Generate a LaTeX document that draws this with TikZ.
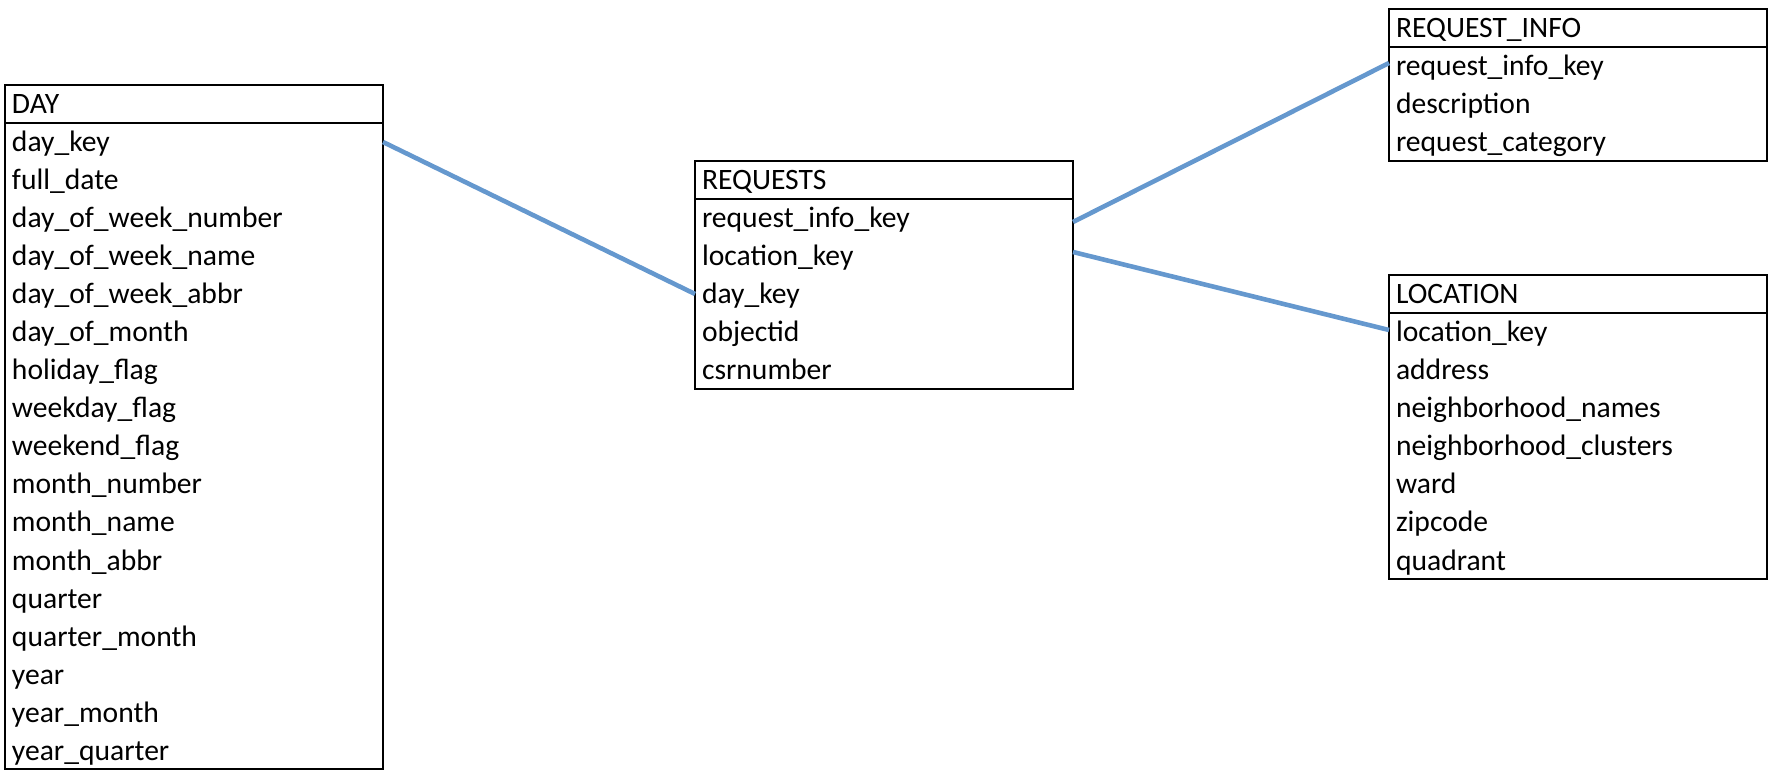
\documentclass[tikz,border=0pt]{standalone}
\usepackage{fontspec}
\setmainfont{Carlito}
\definecolor{linkblue}{RGB}{101,152,206}
\tikzset{
	field/.style={inner xsep=7pt, inner ysep=0pt, outer sep=0pt, text width=364pt, align=left,
		text height=25pt, text depth=5pt, minimum height=38pt, font=\fontsize{29.6}{34}\selectfont},
	tablehead/.style={field, draw, line width=2.8pt},
	link/.style={draw=linkblue, line width=4.6pt},
}
\newcommand{\erTable}[4]{
	\node[tablehead, anchor=north west] (#1-0) at (#2) {#3};
	\foreach \fieldname [count=\i, remember=\i as \j (initially 0)] in {#4}{
		\node[field, anchor=north] (#1-\i) at (#1-\j.south) {\fieldname};
		\xdef\lastRow{\i}
	}
	\draw[line width=2.8pt] (#1-0.north west) rectangle (#1-\lastRow.south east);
}

\begin{document}
\begin{tikzpicture}[x=1pt, y=1pt]
		\useasboundingbox (0,0) rectangle (1774,774);

		% Draw tables
		\erTable{day}{5,689}{DAY}{day\_key, full\_date, day\_of\_week\_number, day\_of\_week\_name,
			day\_of\_week\_abbr, day\_of\_month, holiday\_flag, weekday\_flag, weekend\_flag,
			month\_number, month\_name, month\_abbr, quarter, quarter\_month, year,
			year\_month, year\_quarter}
		\erTable{req}{695,613}{REQUESTS}{request\_info\_key, location\_key, day\_key, objectid, csrnumber}
		\erTable{info}{1389,765}{REQUEST\_INFO}{request\_info\_key, description, request\_category}
		\erTable{loc}{1389,499}{LOCATION}{location\_key, address, neighborhood\_names,
			neighborhood\_clusters, ward, zipcode, quadrant}

		% Draw links
		\draw[link] (day-1.east) -- (req-3.west);
		\draw[link] ([yshift=-4pt]req-1.east) -- ([yshift=3pt]info-1.west);
		\draw[link] ([yshift=4pt]req-2.east) -- ([yshift=2pt]loc-1.west);
	\end{tikzpicture}
\end{document}
